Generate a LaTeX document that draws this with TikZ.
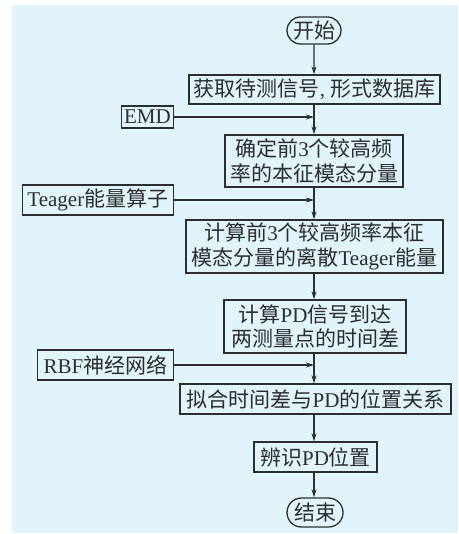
\documentclass[tikz,border=0pt]{standalone}
\usepackage{fontspec}
\setmainfont{Noto Sans CJK SC}
\newfontfamily\latinfont{Liberation Serif}
\newcommand\Lt[1]{{\latinfont #1}}
\usetikzlibrary{arrows.meta,shapes.misc}
\definecolor{bgblue}{RGB}{225,243,251}
\definecolor{ink}{RGB}{45,45,45}
\tikzset{
  stepbox/.style={draw=ink, line width=1.3pt, fill=bgblue, text=ink, inner sep=0pt,
    align=center, font=\fontsize{21}{24.5}\selectfont},
  termbox/.style={stepbox, rounded rectangle, minimum width=54, minimum height=27},
  flow/.style={draw=ink, line width=1.3pt, -{Stealth[length=8pt,width=5pt]}},
}
\begin{document}
\begin{tikzpicture}[x=1pt,y=-1pt]
\useasboundingbox (0,0) rectangle (458,534);
\fill[bgblue] (12,5) rectangle (458,533);

% main column
\node[termbox] (start) at (314,30.5) {开始};
\node[stepbox, minimum width=251, minimum height=29] (acq) at (314.5,89.5)
  {获取待测信号\Lt{, }形式数据库};
\node[stepbox, minimum width=178, minimum height=52] (imf) at (314,161)
  {确定前\Lt{3}个较高频\\率的本征模态分量};
\node[stepbox, minimum width=257, minimum height=53] (teo) at (314.5,246.5)
  {计算前\Lt{3}个较高频率本征\\模态分量的离散\Lt{Teager}能量};
\node[stepbox, minimum width=182, minimum height=53] (tdiff) at (315,326.5)
  {计算\Lt{PD}信号到达\\两测量点的时间差};
\node[stepbox, minimum width=271, minimum height=30] (fit) at (315.5,399)
  {拟合时间差与\Lt{PD}的位置关系};
\node[stepbox, minimum width=123, minimum height=30] (ident) at (315.5,457)
  {辨识\Lt{PD}位置};
\node[termbox, minimum width=56, minimum height=29] (stop) at (315,512.5) {结束};

% side inputs
\node[stepbox, anchor=east, minimum width=52, minimum height=22] (emd) at (174,117) {\Lt{EMD}};
\node[stepbox, anchor=east, minimum width=151, minimum height=30] (teager) at (174,200)
  {\Lt{Teager}能量算子};
\node[stepbox, anchor=east, minimum width=136, minimum height=30] (rbf) at (174,365)
  {\Lt{RBF}神经网络};

% connectors
\draw[flow] (start) -- (start |- acq.north);
\draw[flow] (start |- acq.south) -- (start |- imf.north);
\draw[flow] (start |- imf.south) -- (start |- teo.north);
\draw[flow] (start |- teo.south) -- (start |- tdiff.north);
\draw[flow] (start |- tdiff.south) -- (start |- fit.north);
\draw[flow] (start |- fit.south) -- (start |- ident.north);
\draw[flow] (start |- ident.south) -- (start |- stop.north);

\draw[flow] (emd.east) -- (emd.east -| start);
\draw[flow] (teager.east) -- (teager.east -| start);
\draw[flow] (rbf.east) -- (rbf.east -| start);
\end{tikzpicture}
\end{document}
